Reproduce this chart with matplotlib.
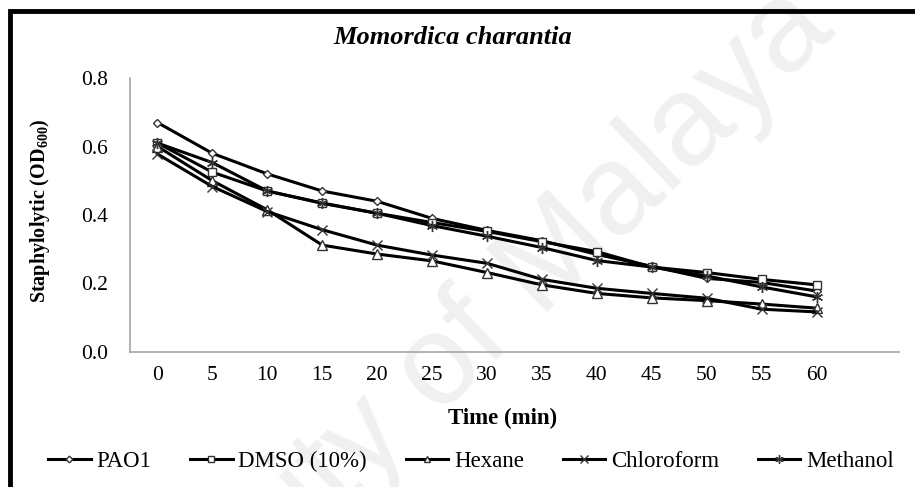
import numpy as np
import matplotlib
matplotlib.use('Agg')
import matplotlib.pyplot as plt
from matplotlib.patches import Rectangle

plt.rcParams['font.family'] = 'Liberation Serif'
plt.rcParams['mathtext.fontset'] = 'custom'
plt.rcParams['mathtext.rm'] = 'Liberation Serif'
plt.rcParams['mathtext.bf'] = 'Liberation Serif:bold'

# Staphylolytic activity (OD600) over time
time_min = [0, 5, 10, 15, 20, 25, 30, 35, 40, 45, 50, 55, 60]
pao1 = [0.67, 0.58, 0.52, 0.47, 0.44, 0.39, 0.355, 0.325, 0.285, 0.25, 0.215, 0.203, 0.178]
dmso = [0.61, 0.525, 0.47, 0.435, 0.405, 0.378, 0.352, 0.322, 0.293, 0.248, 0.232, 0.212, 0.196]
hexane = [0.60, 0.50, 0.415, 0.312, 0.286, 0.266, 0.232, 0.196, 0.171, 0.158, 0.15, 0.14, 0.128]
chloroform = [0.578, 0.483, 0.41, 0.357, 0.312, 0.283, 0.259, 0.212, 0.186, 0.171, 0.157, 0.125, 0.117]
methanol = [0.61, 0.553, 0.47, 0.434, 0.405, 0.369, 0.338, 0.305, 0.267, 0.248, 0.222, 0.19, 0.161]

series = [
    ('PAO1', pao1, 'D', 4.5),
    ('DMSO (10%)', dmso, 's', 6),
    ('Hexane', hexane, '^', 6.5),
    ('Chloroform', chloroform, 'x', 7),
    ('Methanol', methanol, (6, 2, 0), 8),
]

W, H = 915, 487
fig = plt.figure(figsize=(W / 100, H / 100), dpi=100)

# faint diagonal watermark behind everything
fig.text(400 / W, 1 - 408 / H, 'University of Malaya', family='Liberation Sans',
         fontsize=92, color='#f0f0f0', rotation=44, ha='center', va='center',
         rotation_mode='anchor', zorder=-1)

ax = fig.add_axes([130 / W, 1 - 352 / H, 769 / W, 274 / H])
ax.patch.set_alpha(0)

x = np.arange(len(time_min))
for name, vals, mk, ms in series:
    ax.plot(x, vals, color='black', lw=2.2, marker=mk, ms=ms,
            mfc='white', mec='#333333', mew=1.0, label=name)

ax.set_xlim(-0.5, 13.5)
ax.set_ylim(0, 0.8)
ax.set_xticks(x)
ax.set_xticklabels([str(t) for t in time_min])
ax.set_yticks([0, 0.2, 0.4, 0.6, 0.8])
ax.set_yticklabels(['0.0', '0.2', '0.4', '0.6', '0.8'])
ax.tick_params(length=0, labelsize=15.5)
ax.tick_params(axis='x', pad=10)
ax.tick_params(axis='y', pad=16)
for side in ['top', 'right']:
    ax.spines[side].set_visible(False)
for side in ['left', 'bottom']:
    ax.spines[side].set_color('#a6a6a6')
    ax.spines[side].set_linewidth(1.2)

fig.text(503 / W, 1 - 418 / H, 'Time (min)', fontsize=16.5, fontweight='bold',
         ha='center', va='center')
fig.text(40 / W, 1 - 211 / H, r'Staphylolytic (OD$_{\mathbf{600}}$)', fontsize=14.5,
         fontweight='bold', rotation=90, ha='center', va='center')
fig.text(453 / W, 1 - 37 / H, 'Momordica charantia', fontsize=19,
         fontweight='bold', style='italic', ha='center', va='center')

fig.legend(loc='center', bbox_to_anchor=(471 / W, 1 - 461 / H), ncol=5,
           frameon=False, fontsize=16.5, handlelength=1.85, handletextpad=0.25,
           columnspacing=1.7, markerscale=0.75)

# outer border of the figure panel
fig.patches.append(Rectangle((10 / W, -0.1), 1.2, 1 - 11 / H + 0.1,
                             transform=fig.transFigure, fill=False,
                             edgecolor='black', lw=3.5, zorder=5))

fig.savefig('out.png', dpi=100)
